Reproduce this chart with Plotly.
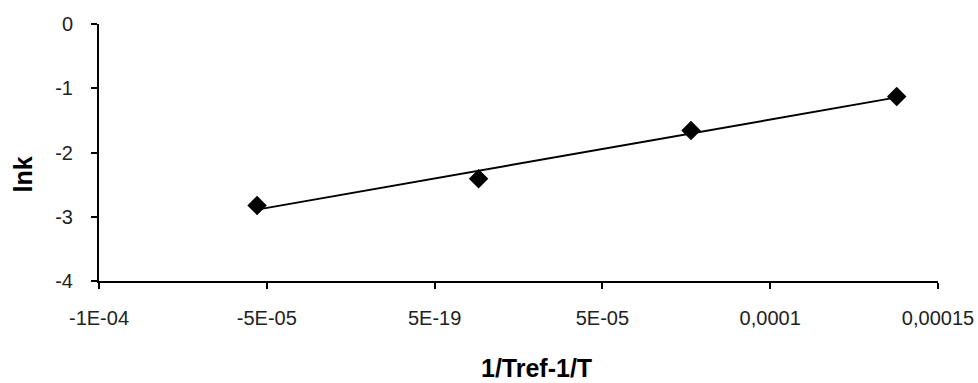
import numpy as np
import plotly.graph_objects as go

# Arrhenius-type data: reciprocal temperature difference vs ln k
inv_t_diff = [-5.29e-5, 1.31e-5, 7.64e-5, 1.377e-4]
ln_k = [-2.823, -2.408, -1.658, -1.13]

x_tickvals = [-1e-4, -5e-5, 5e-19, 5e-5, 1e-4, 1.5e-4]
x_ticktext = ["-1E-04", "-5E-05", "5E-19", "5E-05", "0,0001", "0,00015"]
y_tickvals = [0, -1, -2, -3, -4]
y_ticktext = ["0", "-1", "-2", "-3", "-4"]

# least-squares trendline through the measured points
slope, intercept = np.polyfit(inv_t_diff, ln_k, 1)
fit_x = [min(inv_t_diff), max(inv_t_diff)]
fit_y = [slope * v + intercept for v in fit_x]

fig = go.Figure()
fig.add_trace(go.Scatter(
    x=fit_x, y=fit_y, mode="lines",
    line=dict(color="black", width=2), hoverinfo="skip", showlegend=False,
))
fig.add_trace(go.Scatter(
    x=inv_t_diff, y=ln_k, mode="markers",
    marker=dict(symbol="diamond", size=15, color="black"), showlegend=False,
))

tick_font = dict(family="Liberation Sans, Arial, sans-serif", size=20, color="#222222")
title_font = dict(family="Liberation Sans, Arial, sans-serif", size=25, color="black")

fig.update_layout(
    width=978, height=383,
    margin=dict(l=99, r=40, t=24, b=102),
    paper_bgcolor="white", plot_bgcolor="white",
    xaxis=dict(
        range=[-1e-4, 1.5e-4], tickmode="array", tickvals=x_tickvals, ticktext=x_ticktext,
        showgrid=False, zeroline=False, showline=True, linecolor="black", linewidth=2,
        ticks="outside", ticklen=6, tickwidth=1.5, tickcolor="black",
        tickfont=tick_font, ticklabelstandoff=12, automargin=False,
    ),
    yaxis=dict(
        range=[-4, 0], tickmode="array", tickvals=y_tickvals, ticktext=y_ticktext,
        showgrid=False, zeroline=False, showline=True, linecolor="black", linewidth=2,
        ticks="outside", ticklen=6, tickwidth=1.5, tickcolor="black",
        tickfont=tick_font, ticklabelstandoff=14, automargin=False,
    ),
    annotations=[
        dict(text="<b>1/Tref-1/T</b>", xref="paper", yref="paper", x=0.5, y=0,
             xshift=18, yshift=-87, showarrow=False, font=title_font,
             xanchor="center", yanchor="middle"),
        dict(text="<b>lnk</b>", xref="paper", yref="paper", x=0, y=0.5,
             xshift=-77, yshift=-22, showarrow=False, font=title_font, textangle=-90,
             xanchor="center", yanchor="middle"),
    ],
)

fig.write_html("out.html")
